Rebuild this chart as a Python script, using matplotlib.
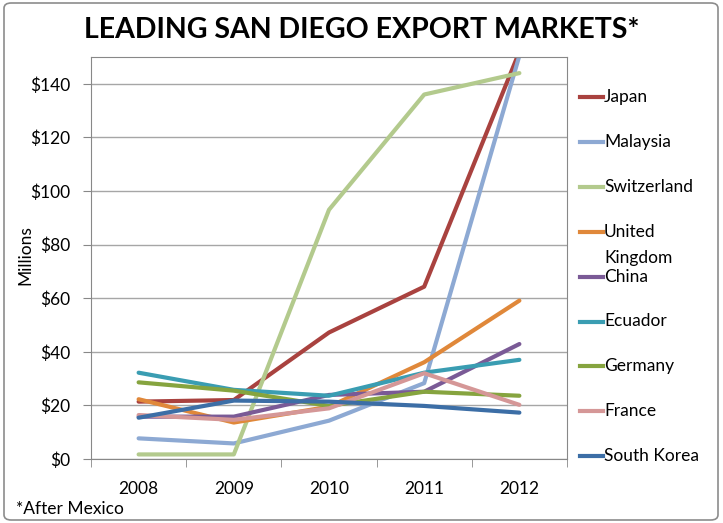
import matplotlib.pyplot as plt
from matplotlib.lines import Line2D
from matplotlib.patches import FancyBboxPatch
from matplotlib.ticker import FuncFormatter

plt.rcParams['font.family'] = ['Lato', 'DejaVu Sans']

years = ['2008', '2009', '2010', '2011', '2012']
countries = ['Japan', 'Malaysia', 'Switzerland', 'United\nKingdom', 'China',
             'Ecuador', 'Germany', 'France', 'South Korea']
colors = ['#A9423F', '#8DA9D3', '#B3CA8D', '#E0883A', '#7A5A96',
          '#3A9DB2', '#86A43F', '#D59797', '#3C6EA6']

# export values, $ millions
japan = [21.4, 22.0, 47.2, 64.3, 152]
malaysia = [7.7, 5.8, 14.3, 28.3, 150.5]
switzerland = [1.7, 1.7, 93.0, 136.0, 144.0]
uk = [22.3, 13.6, 19.5, 36.1, 59.1]
china = [15.8, 15.8, 23.9, 25.1, 42.9]
ecuador = [32.2, 25.8, 23.6, 32.2, 37.0]
germany = [28.6, 25.5, 19.8, 25.1, 23.6]
france = [16.4, 14.6, 18.9, 32.0, 20.2]
south_korea = [15.4, 21.8, 21.4, 19.8, 17.3]
series = [japan, malaysia, switzerland, uk, china,
          ecuador, germany, france, south_korea]

fig = plt.figure(figsize=(7.23, 5.23), dpi=100)
ax = fig.add_axes([0.1259, 0.1224, 0.6583, 0.7686])

x = list(range(len(years)))
for vals, c in zip(series, colors):
    ax.plot(x, vals, color=c, lw=3, solid_capstyle='round', solid_joinstyle='round')

ax.set_xlim(-0.5, 4.5)
ax.set_ylim(0, 150)
ax.set_yticks(range(0, 141, 20))
ax.yaxis.set_major_formatter(FuncFormatter(lambda v, p: '${:.0f}'.format(v)))
ax.grid(axis='y', color='#A6A6A6', lw=1)
ax.set_axisbelow(True)

ax.set_xticks(x)
ax.set_xticklabels(years)
ax.set_xticks([i - 0.5 for i in range(len(years) + 1)], minor=True)
ax.tick_params(axis='x', which='major', length=0, pad=16, labelsize=12.5)
ax.tick_params(axis='x', which='minor', length=6, color='#888888')
ax.tick_params(axis='y', length=6, color='#888888', pad=9, labelsize=12.5)
for s in ax.spines.values():
    s.set_color('#888888')

fig.text(0.035, 0.512, 'Millions', rotation=90, ha='center', va='center', fontsize=12.5)
fig.text(0.5, 0.943, 'LEADING SAN DIEGO EXPORT MARKETS*', ha='center', va='center',
         fontsize=20.5, fontweight='bold')
fig.text(0.022, 0.027, '*After Mexico', ha='left', va='center', fontsize=12.5)

# legend drawn by hand so the wrapped label runs into the next entry
leg_y0 = 97
for i, (name, c) in enumerate(zip(countries, colors)):
    yy = 1 - (leg_y0 + i * 44.9) / 523
    fig.add_artist(Line2D([580 / 723, 603 / 723], [yy, yy], color=c, lw=3,
                          transform=fig.transFigure))
    for k, part in enumerate(name.split('\n')):
        fig.text(604 / 723, yy - k * 26 / 523, part, ha='left', va='center',
                 fontsize=12.5)

border = FancyBboxPatch((4 / 723, 3 / 523), 714 / 723, 517 / 523,
                        boxstyle='round,pad=0,rounding_size=0.01',
                        transform=fig.transFigure, fill=False,
                        ec='#8C8C8C', lw=1.2)
fig.add_artist(border)

fig.savefig('out.png', dpi=100)
